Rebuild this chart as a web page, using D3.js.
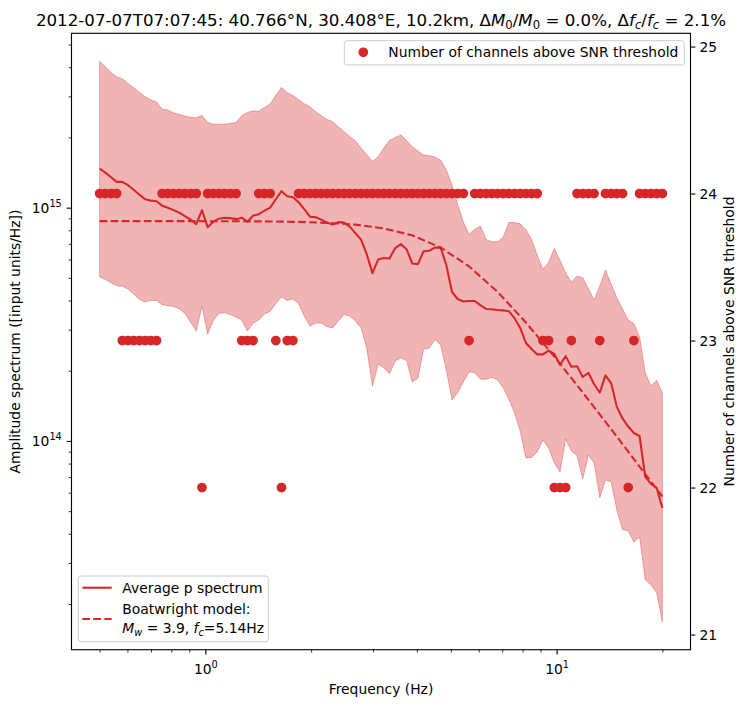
<!DOCTYPE html>
<html><head><meta charset="utf-8">
<script src="https://cdn.jsdelivr.net/npm/d3@7"></script>
<style>body{margin:0;background:#fff} text{font-family:"DejaVu Sans",sans-serif;fill:#000}</style>
</head><body><svg id="c" width="747" height="707"></svg>
<script>
// ---------- data ----------
const freq = [0.500,0.519,0.539,0.559,0.580,0.602,0.625,0.649,0.674,0.699,
0.726,0.753,0.782,0.812,0.842,0.874,0.908,0.942,0.978,1.015,
1.053,1.093,1.135,1.178,1.223,1.269,1.317,1.367,1.419,1.473,
1.529,1.587,1.647,1.710,1.775,1.842,1.912,1.985,2.060,2.138,
2.219,2.303,2.391,2.482,2.576,2.674,2.775,2.880,2.990,3.103,
3.221,3.343,3.470,3.602,3.739,3.881,4.028,4.181,4.340,4.504,
4.675,4.853,5.037,5.228,5.427,5.633,5.846,6.068,6.299,6.538,
6.786,7.044,7.311,7.588,7.876,8.175,8.486,8.808,9.142,9.489,
9.850,10.223,10.612,11.014,11.432,11.866,12.317,12.784,13.270,13.773,
14.296,14.839,15.402,15.987,16.594,17.224,17.877,18.556,19.270,20.000];

const meanSpec = [1.472e15,1.413e15,1.351e15,1.290e15,1.290e15,1.248e15,1.194e15,1.137e15,1.087e15,1.072e15,
1.066e15,1.020e15,1.000e15,9.76e14,9.52e14,9.20e14,8.89e14,8.50e14,9.76e14,8.25e14,
8.71e14,8.97e14,9.06e14,9.02e14,8.93e14,9.06e14,8.71e14,9.23e14,9.38e14,9.71e14,
1.000e15,1.087e15,1.177e15,1.120e15,1.109e15,1.056e15,9.85e14,9.15e14,9.09e14,8.89e14,
8.63e14,8.46e14,8.67e14,8.63e14,8.29e14,7.78e14,7.29e14,6.32e14,5.24e14,5.99e14,
6.08e14,6.05e14,6.71e14,6.98e14,6.64e14,5.76e14,5.73e14,6.51e14,6.54e14,6.74e14,
6.74e14,5.67e14,4.35e14,4.06e14,3.96e14,3.98e14,3.98e14,3.82e14,3.68e14,3.67e14,
3.64e14,3.63e14,3.60e14,3.36e14,3.05e14,2.63e14,2.48e14,2.35e14,2.35e14,2.44e14,
2.36e14,2.12e14,2.31e14,2.08e14,2.09e14,1.88e14,1.96e14,1.75e14,1.61e14,1.91e14,
1.77e14,1.40e14,1.249e14,1.153e14,1.082e14,1.05e14,7.01e13,6.55e13,6.29e13,5.16e13];

const upperSpec = [4.24e15,4.02e15,3.80e15,3.64e15,3.57e15,3.41e15,3.27e15,3.12e15,2.99e15,2.90e15,
2.84e15,2.65e15,2.62e15,2.55e15,2.51e15,2.47e15,2.44e15,2.43e15,2.49e15,2.32e15,
2.28e15,2.28e15,2.28e15,2.30e15,2.32e15,2.48e15,2.56e15,2.60e15,2.59e15,2.69e15,
2.78e15,3.03e15,3.28e15,3.11e15,3.03e15,2.90e15,2.79e15,2.71e15,2.58e15,2.48e15,
2.39e15,2.34e15,2.22e15,2.12e15,2.02e15,1.93e15,1.80e15,1.69e15,1.58e15,1.65e15,
1.80e15,1.94e15,2.00e15,2.05e15,1.94e15,1.82e15,1.75e15,1.68e15,1.67e15,1.65e15,
1.60e15,1.45e15,1.25e15,1.035e15,8.67e14,7.70e14,8.09e14,8.34e14,7.31e14,7.15e14,
7.15e14,7.47e14,8.65e14,8.63e14,8.54e14,8.05e14,7.33e14,6.26e14,5.44e14,5.84e14,
6.69e14,5.96e14,5.24e14,4.80e14,5.09e14,5.01e14,4.50e14,4.02e14,4.61e14,5.40e14,
4.70e14,4.10e14,3.69e14,3.30e14,3.19e14,2.79e14,1.96e14,1.72e14,1.82e14,1.61e14];

const lowerSpec = [5.05e14,4.92e14,4.77e14,4.63e14,4.61e14,4.48e14,4.26e14,4.04e14,3.94e14,4.00e14,
4.00e14,3.84e14,3.80e14,3.77e14,3.69e14,3.53e14,3.23e14,2.96e14,3.79e14,2.87e14,
3.28e14,3.52e14,3.55e14,3.48e14,3.40e14,3.30e14,2.96e14,3.19e14,3.30e14,3.50e14,
3.59e14,3.88e14,4.14e14,4.00e14,4.06e14,3.88e14,3.43e14,3.11e14,3.20e14,3.20e14,
3.09e14,3.05e14,3.27e14,3.48e14,3.43e14,3.27e14,3.05e14,2.50e14,1.72e14,2.13e14,
2.06e14,1.94e14,2.20e14,2.27e14,2.21e14,1.79e14,1.86e14,2.48e14,2.50e14,2.72e14,
2.58e14,2.01e14,1.50e14,1.61e14,1.79e14,1.98e14,1.96e14,1.84e14,1.84e14,1.87e14,
1.83e14,1.69e14,1.51e14,1.32e14,1.10e14,8.46e13,8.50e13,8.97e13,1.01e14,9.33e13,
8.05e13,7.36e13,1.02e14,9.06e13,8.63e13,6.88e13,8.71e13,8.05e13,5.70e13,6.81e13,
6.68e13,5.06e13,4.16e13,4.12e13,3.69e13,3.88e13,2.54e13,2.42e13,2.23e13,1.68e13];

const channelCount = [24,24,24,24,23,23,23,23,23,23,
23,24,24,24,24,24,24,24,22,24,
24,24,24,24,24,23,23,23,24,24,
24,23,22,23,23,24,24,24,24,24,
24,24,24,24,24,24,24,24,24,24,
24,24,24,24,24,24,24,24,24,24,
24,24,24,24,24,23,24,24,24,24,
24,24,24,24,24,24,24,24,23,23,
22,22,22,23,24,24,24,24,23,24,
24,24,24,22,23,24,24,24,24,24];

const modelFreq = [0.500,0.602,0.726,0.874,1.053,1.269,1.529,1.842,2.219,2.674,3.221,3.881,4.675,5.633,6.786,8.175,9.850,11.866,14.296,17.224,20.000];
const modelSpec = [8.76e14,8.76e14,8.76e14,8.76e14,8.75e14,8.74e14,8.73e14,8.69e14,8.61e14,8.46e14,8.15e14,7.61e14,6.75e14,5.60e14,4.36e14,3.22e14,2.30e14,1.615e14,1.123e14,7.77e13,5.78e13];

const xMajorTicks = [1, 10];
const yMajorTicks = [1e14, 1e15];
const rightTicks = [21, 22, 23, 24, 25];
const rightLimits = [20.897, 25.09];

// ---------- layout ----------
const L = 71.5, R = 690.5, T = 33.3, B = 649.7;
const RED = '#d62728';
const FS = 13.89;
const svg = d3.select('#c');

const lx = Math.log10(d3.min(freq)), hx = Math.log10(d3.max(freq)), px = (hx - lx) * 0.05;
const x = d3.scaleLog().domain([10 ** (lx - px), 10 ** (hx + px)]).range([L, R]);
const ly = Math.log10(d3.min(lowerSpec)), hy = Math.log10(d3.max(upperSpec)), py = (hy - ly) * 0.05;
const y = d3.scaleLog().domain([10 ** (ly - py), 10 ** (hy + py)]).range([B, T]);
const yR = d3.scaleLinear().domain(rightLimits).range([B, T]);

function rich(textSel, segs, fs) {
  let cur = 0;
  segs.forEach(s => {
    const off = s.sub ? fs * 0.22 : s.sup ? -fs * 0.45 : 0;
    const ts = textSel.append('tspan').text(s.t);
    if (off !== cur) { ts.attr('dy', off - cur); cur = off; }
    if (s.sub || s.sup) ts.attr('font-size', fs * 0.7);
    if (s.it) ts.attr('font-style', 'italic');
  });
}

// ---------- ax1 content ----------
const idx = d3.range(freq.length);
svg.append('path')
  .attr('d', d3.area().x(i => x(freq[i])).y0(i => y(lowerSpec[i])).y1(i => y(upperSpec[i]))(idx))
  .attr('fill', RED).attr('fill-opacity', 0.35)
  .attr('stroke', RED).attr('stroke-opacity', 0.35).attr('stroke-width', 1);

svg.append('path')
  .attr('d', d3.line().x(i => x(freq[i])).y(i => y(meanSpec[i]))(idx))
  .attr('fill', 'none').attr('stroke', RED).attr('stroke-width', 2.08)
  .attr('stroke-linejoin', 'round');

svg.append('path')
  .attr('d', d3.line().x((d, i) => x(modelFreq[i])).y((d, i) => y(modelSpec[i]))(modelFreq))
  .attr('fill', 'none').attr('stroke', RED).attr('stroke-width', 2.08)
  .attr('stroke-dasharray', '7.7,3.33');

// ---------- axes ----------
function styleAxis(g, width) {
  g.select('.domain').remove();
  g.selectAll('line').attr('stroke', '#000').attr('stroke-width', width);
  g.selectAll('text').attr('font-size', FS).attr('font-family', '"DejaVu Sans",sans-serif').attr('fill', '#000');
}
function powLabel(g) {
  g.selectAll('.tick text').each(function (d) {
    const t = d3.select(this); t.text('');
    const e = Math.round(Math.log10(d));
    rich(t, [{ t: '10' }, { t: String(e), sup: true }], FS);
  });
}
// x minor
const xMinor = [];
[-1, 0, 1].forEach(e => { for (let k = 2; k <= 9; k++) { const v = k * 10 ** e; if (v >= x.domain()[0] && v <= x.domain()[1]) xMinor.push(v); } });
const gxm = svg.append('g').attr('transform', `translate(0,${B})`)
  .call(d3.axisBottom(x).tickValues(xMinor).tickSize(2.78).tickFormat(''));
styleAxis(gxm, 0.83);
const gx = svg.append('g').attr('transform', `translate(0,${B})`)
  .call(d3.axisBottom(x).tickValues(xMajorTicks).tickSize(4.86).tickPadding(4.86));
styleAxis(gx, 1.11);
powLabel(gx);
gx.selectAll('.tick text').attr('y', 24.3).attr('dy', null);

// y minor
const yMinor = [];
[13, 14, 15].forEach(e => { for (let k = 2; k <= 9; k++) { const v = k * 10 ** e; if (v >= y.domain()[0] && v <= y.domain()[1]) yMinor.push(v); } });
const gym = svg.append('g').attr('transform', `translate(${L},0)`)
  .call(d3.axisLeft(y).tickValues(yMinor).tickSize(2.78).tickFormat(''));
styleAxis(gym, 0.83);
const gy = svg.append('g').attr('transform', `translate(${L},0)`)
  .call(d3.axisLeft(y).tickValues(yMajorTicks).tickSize(4.86).tickPadding(4.86));
styleAxis(gy, 1.11);
powLabel(gy);
gy.selectAll('.tick text').attr('dy', null).attr('y', 4.6);

// right axis
const gr = svg.append('g').attr('transform', `translate(${R},0)`)
  .call(d3.axisRight(yR).tickValues(rightTicks).tickSize(4.86).tickPadding(4.2).tickFormat(d3.format('d')));
styleAxis(gr, 1.11);
gr.selectAll('.tick text').attr('dy', null).attr('y', 5.2);

// axis labels
svg.append('text').attr('x', (L + R) / 2).attr('y', 694).attr('text-anchor', 'middle')
  .attr('font-size', FS).text('Frequency (Hz)');
svg.append('text').attr('transform', `translate(19.5,${(T + B) / 2}) rotate(-90)`).attr('text-anchor', 'middle')
  .attr('font-size', FS).text('Amplitude spectrum ([input units/Hz])');
svg.append('text').attr('transform', `translate(733.5,${(T + B) / 2}) rotate(-90)`).attr('text-anchor', 'middle')
  .attr('font-size', FS).text('Number of channels above SNR threshold');

// title
const title = svg.append('text').attr('x', (L + R) / 2).attr('y', 25.5).attr('text-anchor', 'middle')
  .attr('font-size', 16.67);
rich(title, [
  { t: '2012-07-07T07:07:45: 40.766°N, 30.408°E, 10.2km, Δ' },
  { t: 'M', it: true }, { t: '0', sub: true }, { t: '/' },
  { t: 'M', it: true }, { t: '0', sub: true }, { t: ' = 0.0%, Δ' },
  { t: 'f', it: true }, { t: 'c', it: true, sub: true }, { t: '/' },
  { t: 'f', it: true }, { t: 'c', it: true, sub: true }, { t: ' = 2.1%' }
], 16.67);

// legend (ax1)
const lg1 = svg.append('g');
lg1.append('rect').attr('x', 78.3).attr('y', 576).attr('width', 190).attr('height', 65.7).attr('rx', 2.8)
  .attr('fill', '#fff').attr('fill-opacity', 0.8).attr('stroke', '#cccccc').attr('stroke-width', 1);
lg1.append('line').attr('x1', 82.3).attr('x2', 111.7).attr('y1', 587.7).attr('y2', 587.7)
  .attr('stroke', RED).attr('stroke-width', 2.08);
lg1.append('text').attr('x', 122.3).attr('y', 593.3).attr('font-size', FS).text('Average p spectrum');
lg1.append('line').attr('x1', 82.3).attr('x2', 111.7).attr('y1', 619).attr('y2', 619)
  .attr('stroke', RED).attr('stroke-width', 2.08).attr('stroke-dasharray', '7.7,3.33');
lg1.append('text').attr('x', 122.3).attr('y', 614.3).attr('font-size', FS).text('Boatwright model:');
const lt2 = lg1.append('text').attr('x', 122.3).attr('y', 632.7).attr('font-size', FS);
rich(lt2, [{ t: 'M', it: true }, { t: 'w', it: true, sub: true }, { t: ' = 3.9, ' },
  { t: 'f', it: true }, { t: 'c', it: true, sub: true }, { t: '=5.14Hz' }], FS);

// ---------- ax2 content ----------
svg.append('g').selectAll('circle').data(idx).join('circle')
  .attr('cx', i => x(freq[i])).attr('cy', i => yR(channelCount[i])).attr('r', 4.17)
  .attr('fill', RED).attr('stroke', RED).attr('stroke-width', 1.39);

const lg2 = svg.append('g');
lg2.append('rect').attr('x', 344.3).attr('y', 40.7).attr('width', 340).attr('height', 24.3).attr('rx', 2.8)
  .attr('fill', '#fff').attr('fill-opacity', 0.8).attr('stroke', '#cccccc').attr('stroke-width', 1);
lg2.append('circle').attr('cx', 363.3).attr('cy', 52.3).attr('r', 4.17)
  .attr('fill', RED).attr('stroke', RED).attr('stroke-width', 1.39);
lg2.append('text').attr('x', 388.3).attr('y', 57.3).attr('font-size', FS).text('Number of channels above SNR threshold');

// spines
svg.append('rect').attr('x', L).attr('y', T).attr('width', R - L).attr('height', B - T)
  .attr('fill', 'none').attr('stroke', '#000').attr('stroke-width', 1.11);
</script></body></html>
